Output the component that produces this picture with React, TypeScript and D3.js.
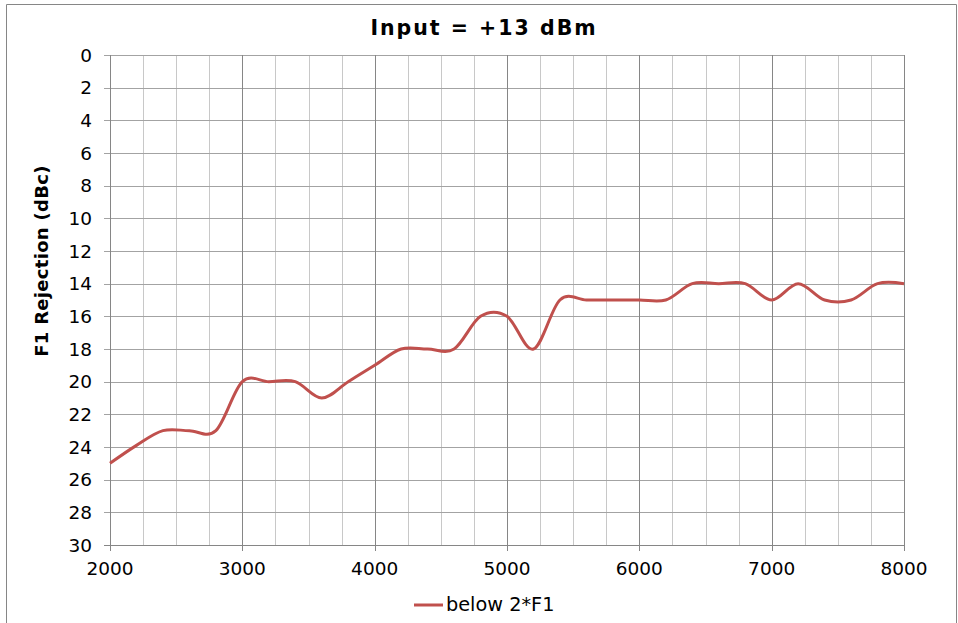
import * as d3 from 'd3'

const TITLE = 'Input = +13 dBm'
const Y_LABEL = 'F1 Rejection (dBc)'
const SERIES_NAME = 'below 2*F1'

// frequency (MHz) and rejection (dBc)
const freqs = [
  2000, 2200, 2400, 2600, 2800, 3000, 3200, 3400, 3600, 3800, 4000,
  4200, 4400, 4600, 4800, 5000, 5200, 5400, 5600, 5800, 6000,
  6200, 6400, 6600, 6800, 7000, 7200, 7400, 7600, 7800, 8000,
]
const rejection = [
  25, 23.9, 23, 23, 23, 20, 20, 20, 21, 20, 19,
  18, 18, 18, 16, 16, 18, 15, 15, 15, 15,
  15, 14, 14, 14, 15, 14, 15, 15, 14, 14,
]

const xMajorTicks = [2000, 3000, 4000, 5000, 6000, 7000, 8000]
const xMinorTicks = d3.range(2000, 8001, 250)
const yTicks = d3.range(0, 31, 2)

const WIDTH = 958
const HEIGHT = 623
const PLOT = { left: 110, right: 904, top: 55, bottom: 545 }
const FONT = '"DejaVu Sans", Verdana, sans-serif'
const RED = '#c0504d'

export default function App() {
  const x = d3.scaleLinear().domain([2000, 8000]).range([PLOT.left, PLOT.right])
  const y = d3.scaleLinear().domain([0, 30]).range([PLOT.top, PLOT.bottom])

  const points = freqs.map((f, i) => ({ f, v: rejection[i] }))
  const line = d3.line<{ f: number; v: number }>()
    .x(d => x(d.f))
    .y(d => y(d.v))
    .curve(d3.curveCardinal.tension(0))

  const crisp = (v: number) => Math.round(v) + 0.5

  return (
    <svg
      width={WIDTH}
      height={HEIGHT}
      style={{ position: 'absolute', left: 0, top: 0 }}
      fontFamily={FONT}
    >
      <rect x={0} y={0} width={WIDTH} height={HEIGHT} fill="#fff" />
      {/* chart frame */}
      <path d={`M6.5,${HEIGHT + 2} V4.5 H956.5 V${HEIGHT + 2}`} fill="none" stroke="#868686" />

      <text x={484} y={35} textAnchor="middle" fontSize={20.5} letterSpacing={2} fontWeight="bold" fill="#000">
        {TITLE}
      </text>

      {/* minor vertical grid */}
      {xMinorTicks.map(t => (
        <line key={'mn' + t} x1={crisp(x(t))} x2={crisp(x(t))} y1={PLOT.top} y2={PLOT.bottom} stroke="#c8c8c8" />
      ))}
      {/* horizontal grid */}
      {yTicks.map(t => (
        <line key={'h' + t} x1={PLOT.left - 6} x2={PLOT.right} y1={crisp(y(t))} y2={crisp(y(t))} stroke="#a3a3a3" />
      ))}
      {/* major vertical grid + ticks */}
      {xMajorTicks.map(t => (
        <line key={'mj' + t} x1={crisp(x(t))} x2={crisp(x(t))} y1={PLOT.top} y2={PLOT.bottom + 6} stroke="#868686" />
      ))}
      {/* axes */}
      <line x1={crisp(x(2000))} x2={crisp(x(2000))} y1={PLOT.top} y2={PLOT.bottom + 6} stroke="#868686" />
      <line x1={PLOT.left - 6} x2={PLOT.right} y1={crisp(y(30))} y2={crisp(y(30))} stroke="#868686" />

      {yTicks.map(t => (
        <text key={'yl' + t} x={92} y={y(t)} dy="0.36em" textAnchor="end" fontSize={18.5} fill="#000">
          {t}
        </text>
      ))}
      {xMajorTicks.map(t => (
        <text key={'xl' + t} x={x(t)} y={575} textAnchor="middle" fontSize={18.5} fill="#000">
          {t}
        </text>
      ))}

      <text
        transform={`translate(48, 261) rotate(-90)`}
        textAnchor="middle"
        fontSize={18}
        letterSpacing={0.3}
        fontWeight="bold"
        fill="#000"
      >
        {Y_LABEL}
      </text>

      <path d={line(points) ?? ''} fill="none" stroke={RED} strokeWidth={3} strokeLinejoin="round" />

      {/* legend */}
      <line x1={414} x2={443} y1={605} y2={605} stroke={RED} strokeWidth={3} />
      <text x={446} y={611} fontSize={19.3} fill="#000">{SERIES_NAME}</text>
    </svg>
  )
}
